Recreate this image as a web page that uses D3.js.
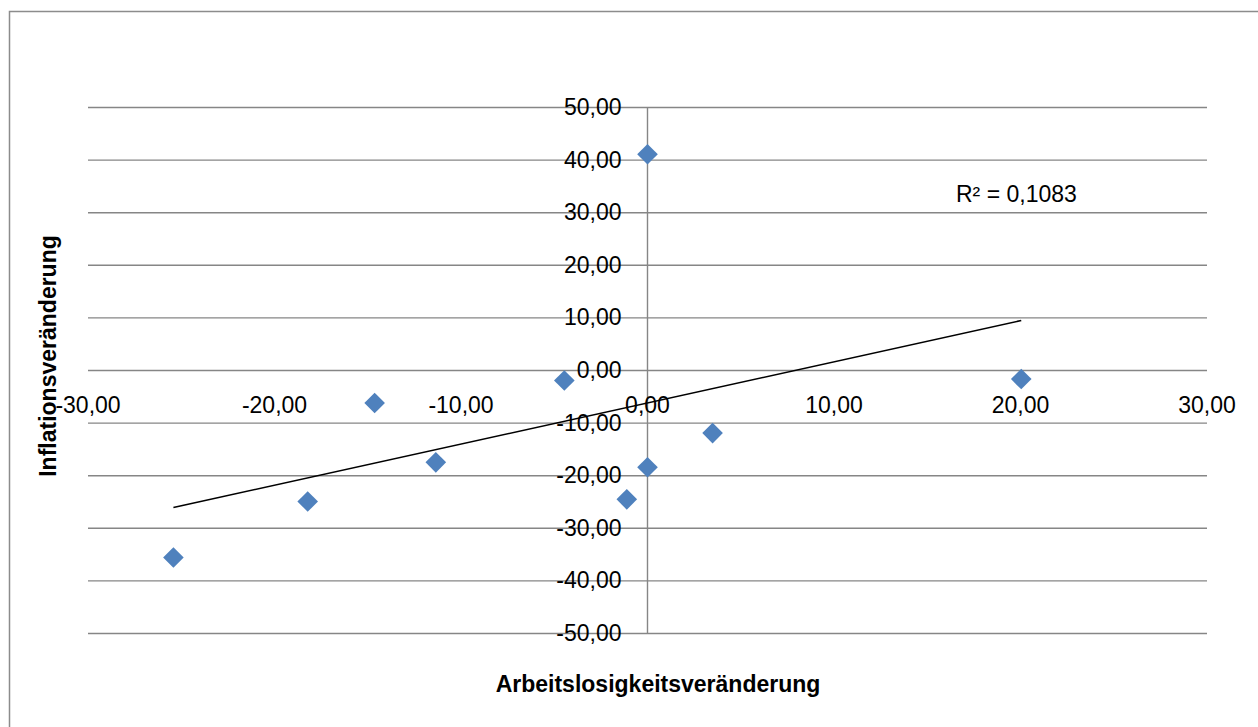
<!DOCTYPE html>
<html>
<head>
<meta charset="utf-8">
<script src="https://cdn.jsdelivr.net/npm/d3@7"></script>
<style>
  html, body { margin: 0; padding: 0; background: #fff; }
  svg { display: block; }
  text { font-family: "Liberation Sans", Arial, sans-serif; fill: #000; }
</style>
</head>
<body>
<svg id="chart" width="1258" height="727"></svg>
<script>
// Data
const unemploymentChange = [-25.42, -18.22, -14.63, -11.35, -4.46, -1.11, 0.0, 0.0, 3.49, 20.04];
const inflationChange    = [-35.54, -24.90, -6.19, -17.46, -1.90, -24.50, 41.10, -18.40, -11.90, -1.63];
const xTicks = [-30, -20, -10, 0, 10, 20, 30];
const yTicks = [-50, -40, -30, -20, -10, 0, 10, 20, 30, 40, 50];
// Linear trendline as shown in the picture
const trendSlope = 0.782;
const trendIntercept = -6.17;
const rSquaredLabel = "R² = 0,1083";
const xTitle = "Arbeitslosigkeitsveränderung";
const yTitle = "Inflationsveränderung";

const fmt = v => d3.format(".2f")(v).replace(".", ",").replace("−", "-");

const svg = d3.select("#chart");

// outer chart border (right/bottom edges fall outside the picture)
svg.append("rect")
  .attr("x", 9.5).attr("y", 11.5)
  .attr("width", 1300).attr("height", 800)
  .attr("fill", "none").attr("stroke", "#8c8c8c").attr("stroke-width", 1.5);

const x = d3.scaleLinear().domain([-30, 30]).range([88, 1207]);
const y = d3.scaleLinear().domain([-50, 50]).range([633.5, 107.5]);

// horizontal gridlines
svg.append("g").selectAll("line").data(yTicks).join("line")
  .attr("x1", x(-30)).attr("x2", x(30))
  .attr("y1", d => y(d)).attr("y2", d => y(d))
  .attr("stroke", "#868686").attr("stroke-width", 1.4);

// vertical axis line
svg.append("line")
  .attr("x1", x(0)).attr("x2", x(0))
  .attr("y1", y(50)).attr("y2", y(-50))
  .attr("stroke", "#868686").attr("stroke-width", 1.4);

// y tick labels
svg.append("g").selectAll("text").data(yTicks).join("text")
  .attr("x", x(0) - 26)
  .attr("y", d => y(d) + 7.5)
  .attr("text-anchor", "end")
  .attr("font-size", 23)
  .text(d => fmt(d));

// x tick labels
svg.append("g").selectAll("text").data(xTicks).join("text")
  .attr("x", d => x(d))
  .attr("y", y(0) + 42.5)
  .attr("text-anchor", "middle")
  .attr("font-size", 23)
  .text(d => fmt(d));

// trendline
const xMin = d3.min(unemploymentChange), xMax = d3.max(unemploymentChange);
svg.append("line")
  .attr("x1", x(xMin)).attr("y1", y(trendSlope * xMin + trendIntercept))
  .attr("x2", x(xMax)).attr("y2", y(trendSlope * xMax + trendIntercept))
  .attr("stroke", "#000").attr("stroke-width", 1.6);

// points
const pts = unemploymentChange.map((v, i) => ({ x: v, y: inflationChange[i] }));
const r = 10.3;
svg.append("g").selectAll("path").data(pts).join("path")
  .attr("transform", d => `translate(${x(d.x)},${y(d.y)})`)
  .attr("d", `M0,${-r}L${r},0L0,${r}L${-r},0Z`)
  .attr("fill", "#4f81bd");

// R² label
svg.append("text")
  .attr("x", 956).attr("y", 202)
  .attr("font-size", 23)
  .text(rSquaredLabel);

// axis titles
svg.append("text")
  .attr("x", 658).attr("y", 692)
  .attr("text-anchor", "middle")
  .attr("font-size", 23).attr("font-weight", "bold")
  .text(xTitle);

svg.append("text")
  .attr("transform", "translate(56,356) rotate(-90)")
  .attr("text-anchor", "middle")
  .attr("font-size", 23).attr("font-weight", "bold")
  .text(yTitle);
</script>
</body>
</html>
